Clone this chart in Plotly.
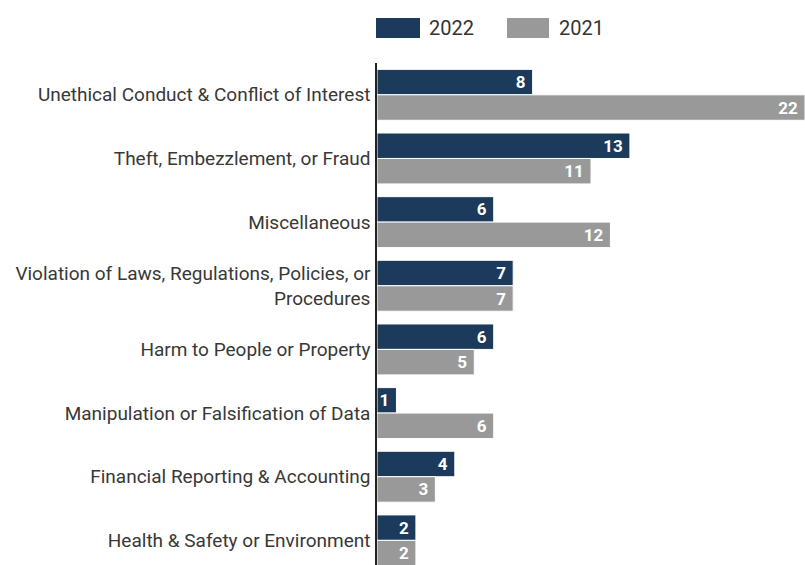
import plotly.graph_objects as go

categories = [
    "Unethical Conduct & Conflict of Interest",
    "Theft, Embezzlement, or Fraud",
    "Miscellaneous",
    "Violation of Laws, Regulations, Policies, or<br>Procedures",
    "Harm to People or Property",
    "Manipulation or Falsification of Data",
    "Financial Reporting & Accounting",
    "Health & Safety or Environment",
]
values_2022 = [8, 13, 6, 7, 6, 1, 4, 2]
values_2021 = [22, 11, 12, 7, 5, 6, 3, 2]
series_names = ["2022", "2021"]
colors = ["#1b3a5c", "#999999"]

FONT = "Roboto"
W, H = 805, 565
L, T = 377, 63

fig = go.Figure()
for name, vals, col in zip(series_names, [values_2022, values_2021], colors):
    fig.add_trace(go.Bar(
        y=categories, x=vals, name=name, orientation="h",
        marker=dict(color=col, line=dict(color="white", width=1)),
        text=[f"{v}&nbsp;" for v in vals], textposition="inside", insidetextanchor="end",
        textangle=0,
        textfont=dict(family=FONT, size=17, color="white", weight="bold"),
        constraintext="none", cliponaxis=False, showlegend=False,
        hoverinfo="skip",
    ))


def px(x):
    return (x - L) / (W - L)


def py(y):
    return (H - y) / (H - T)


legend_items = [(376, 420, 427), (507, 549, 557)]
shapes = []
annotations = []
for (x0, x1, tx), name, col in zip(legend_items, series_names, colors):
    shapes.append(dict(type="rect", xref="paper", yref="paper",
                       x0=px(x0), x1=px(x1), y0=py(38), y1=py(18),
                       line=dict(width=0), fillcolor=col, layer="above"))
    annotations.append(dict(xref="paper", yref="paper", x=px(tx), y=py(28),
                            xanchor="left", yanchor="middle", text=name,
                            showarrow=False,
                            font=dict(family=FONT, size=20, color="#333333")))

fig.update_layout(
    width=W, height=H,
    margin=dict(l=L, r=0, t=T, b=0, pad=0),
    barmode="group", bargap=0.2, bargroupgap=0,
    plot_bgcolor="white", paper_bgcolor="white",
    font=dict(family=FONT, size=19, color="#333333"),
    xaxis=dict(visible=False, range=[0, 22]),
    yaxis=dict(type="category", range=[7.387, -0.5], showline=True,
               linecolor="#222222", linewidth=1.5, showgrid=False,
               ticks="", ticklabelstandoff=1,
               tickfont=dict(family=FONT, size=19, color="#383838")),
    shapes=shapes, annotations=annotations,
)

fig.write_html("out.html")
